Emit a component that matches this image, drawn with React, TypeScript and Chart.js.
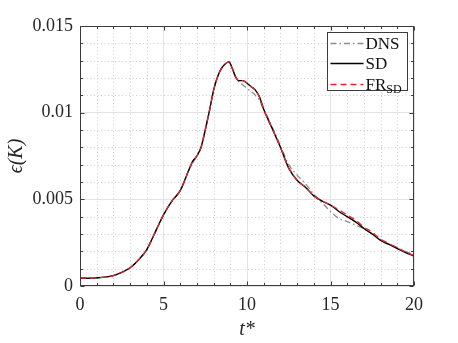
import React, { useEffect, useRef } from "react";
import { Chart, registerables } from "chart.js";

Chart.register(...registerables);

// ---- data ----
const T = [0, 0.5, 1, 1.5, 2, 2.5, 3, 3.5, 4, 4.5, 5, 5.5, 6, 6.5, 6.75, 7, 7.25, 7.5, 7.75, 8, 8.25, 8.5, 8.75, 8.92, 9.1, 9.3, 9.5, 9.75, 10, 10.25, 10.5, 10.75, 11, 11.5, 12, 12.5, 13, 13.5, 14, 14.5, 15, 15.5, 16, 16.5, 17, 17.5, 18, 18.5, 19, 19.5, 20];

const SD = [
  0.00045, 0.00045, 0.00047, 0.00051, 0.0006, 0.00078, 0.00105, 0.0015, 0.0021, 0.0031,
  0.0041, 0.0049, 0.0055, 0.00665, 0.0072, 0.0075, 0.008, 0.009, 0.0101, 0.0113,
  0.0121, 0.0126, 0.01285, 0.01293, 0.0126, 0.0121, 0.01185, 0.01185, 0.0117, 0.0115,
  0.0113, 0.0109, 0.0102, 0.0091, 0.008, 0.0068, 0.0061, 0.0057, 0.0052, 0.0049,
  0.00467, 0.0043, 0.004, 0.0037, 0.00332, 0.003, 0.00263, 0.0024, 0.00215, 0.00193,
  0.00173,
];

const DNS = [
  0.00045, 0.00045, 0.00047, 0.00051, 0.0006, 0.00078, 0.00105, 0.0015, 0.0021, 0.0031,
  0.0041, 0.0049, 0.0055, 0.00665, 0.0071, 0.0075, 0.008, 0.009, 0.0101, 0.0113,
  0.0121, 0.0126, 0.01285, 0.01293, 0.0126, 0.0121, 0.0118, 0.0116, 0.0114, 0.01122,
  0.011, 0.0107, 0.0102, 0.0092, 0.0081, 0.007, 0.0064, 0.0059, 0.0053, 0.0048,
  0.0043, 0.0039, 0.00372, 0.00352, 0.0033, 0.003, 0.00268, 0.00242, 0.00222, 0.002,
  0.0018,
];

const FR_SD = [
  0.00045, 0.00045, 0.00047, 0.00051, 0.0006, 0.00078, 0.00105, 0.0015, 0.0021, 0.0031,
  0.0041, 0.0049, 0.0055, 0.00665, 0.0072, 0.0075, 0.008, 0.009, 0.0101, 0.0113,
  0.0121, 0.0126, 0.01285, 0.01293, 0.0126, 0.0121, 0.01185, 0.01185, 0.0117, 0.0115,
  0.0113, 0.0109, 0.0102, 0.0091, 0.008, 0.0068, 0.0061, 0.0057, 0.0052, 0.0049,
  0.00467, 0.0044, 0.0041, 0.0038, 0.0034, 0.0031, 0.0027, 0.00245, 0.0022, 0.00197,
  0.00175,
];

const SERIES_LABELS = ["DNS", "SD", "FR_SD"];
const X_TICKS = [0, 5, 10, 15, 20];
const Y_TICKS = [0, 0.005, 0.01, 0.015];
const X_TITLE = "t*";
const Y_TITLE = "ϵ(K)";

const FONT = "'Liberation Serif', 'DejaVu Serif', serif";
const AXIS_COLOR = "#3c3c3c";

const pts = (ys: number[]) => T.map((t, i) => ({ x: t, y: ys[i] }));

// minor dotted grid + inward ticks + frame
const framePlugin = {
  id: "frameGrid",
  beforeDatasetsDraw(chart: any) {
    const { ctx, chartArea: a, scales } = chart;
    const x = scales.x;
    const y = scales.y;
    ctx.save();
    ctx.strokeStyle = "#cfcfcf";
    ctx.lineWidth = 1;
    ctx.setLineDash([1, 2.5]);
    for (let t = 1; t < 20; t++) {
      if (t % 5 === 0) continue;
      const px = Math.round(x.getPixelForValue(t)) + 0.5;
      ctx.beginPath();
      ctx.moveTo(px, a.top);
      ctx.lineTo(px, a.bottom);
      ctx.stroke();
    }
    for (let k = 1; k < 15; k++) {
      if (k % 5 === 0) continue;
      const py = Math.round(y.getPixelForValue(k * 0.001)) + 0.5;
      ctx.beginPath();
      ctx.moveTo(a.left, py);
      ctx.lineTo(a.right, py);
      ctx.stroke();
    }
    ctx.restore();
  },
  afterDatasetsDraw(chart: any) {
    const { ctx, chartArea: a, scales } = chart;
    const x = scales.x;
    const y = scales.y;
    ctx.save();
    ctx.strokeStyle = AXIS_COLOR;
    ctx.lineWidth = 1;
    ctx.setLineDash([]);
    const L = Math.round(a.left) + 0.5;
    const R = Math.round(a.right) - 0.5;
    const Tp = Math.round(a.top) + 0.5;
    const B = Math.round(a.bottom) - 0.5;
    ctx.strokeRect(L, Tp, R - L, B - Tp);
    ctx.beginPath();
    for (let t = 0; t <= 20; t++) {
      const px = Math.round(x.getPixelForValue(t)) + 0.5;
      const len = t % 5 === 0 ? 4 : 2.5;
      ctx.moveTo(px, B);
      ctx.lineTo(px, B - len);
      ctx.moveTo(px, Tp);
      ctx.lineTo(px, Tp + len);
    }
    for (let k = 0; k <= 15; k++) {
      const py = Math.round(y.getPixelForValue(k * 0.001)) + 0.5;
      const len = k % 5 === 0 ? 4 : 2.5;
      ctx.moveTo(L, py);
      ctx.lineTo(L + len, py);
      ctx.moveTo(R, py);
      ctx.lineTo(R - len, py);
    }
    ctx.stroke();
    ctx.restore();
  },
};

// legend box inside the axes
const legendPlugin = {
  id: "boxLegend",
  afterDraw(chart: any) {
    const { ctx } = chart;
    const left = 327.5;
    const top = 32.5;
    const w = 80;
    const h = 58;
    ctx.save();
    ctx.fillStyle = "#ffffff";
    ctx.fillRect(left, top, w, h);
    ctx.strokeStyle = AXIS_COLOR;
    ctx.lineWidth = 1;
    ctx.setLineDash([]);
    ctx.strokeRect(left, top, w, h);
    SERIES_LABELS.forEach((label, i) => {
      const ds = chart.data.datasets.find((d: any) => d.label === label);
      const cy = Math.round(top + 10 + i * 20.5) + 0.5;
      ctx.beginPath();
      ctx.strokeStyle = ds.borderColor;
      ctx.lineWidth = ds.borderWidth;
      ctx.setLineDash(ds.borderDash || []);
      ctx.moveTo(left + 3, cy);
      ctx.lineTo(left + 36, cy);
      ctx.stroke();
      ctx.setLineDash([]);
      ctx.fillStyle = "#111111";
      ctx.textBaseline = "middle";
      ctx.textAlign = "left";
      const [main, sub] = label.split("_");
      ctx.font = `17px ${FONT}`;
      ctx.fillText(main, left + 38, cy + 1);
      if (sub) {
        const mw = ctx.measureText(main).width;
        ctx.font = `12px ${FONT}`;
        ctx.fillText(sub, left + 38 + mw, cy + 5);
      }
    });
    ctx.restore();
  },
};

export default function App() {
  const ref = useRef<HTMLCanvasElement | null>(null);

  useEffect(() => {
    if (!ref.current) return;
    const chart = new Chart(ref.current, {
      type: "line",
      data: {
        datasets: [
          {
            label: "FR_SD",
            data: pts(FR_SD),
            borderColor: "#e8262a",
            borderWidth: 1.3,
            borderDash: [6, 4],
            pointRadius: 0,
            cubicInterpolationMode: "monotone",
            fill: false,
            order: 0,
          },
          {
            label: "SD",
            data: pts(SD),
            borderColor: "#000000",
            borderWidth: 1.4,
            borderDash: [],
            pointRadius: 0,
            cubicInterpolationMode: "monotone",
            fill: false,
            order: 1,
          },
          {
            label: "DNS",
            data: pts(DNS),
            borderColor: "#8c8c8c",
            borderWidth: 1.3,
            borderDash: [6, 3, 1.5, 3],
            pointRadius: 0,
            cubicInterpolationMode: "monotone",
            fill: false,
            order: 2,
          },
        ],
      },
      options: {
        animation: false,
        responsive: false,
        maintainAspectRatio: false,
        layout: { padding: { left: 0, right: 44, top: 26, bottom: 0 } },
        plugins: {
          legend: { display: false },
          tooltip: { enabled: false },
        },
        scales: {
          x: {
            type: "linear",
            min: 0,
            max: 20,
            afterBuildTicks: (s: any) => {
              s.ticks = X_TICKS.map((v) => ({ value: v }));
            },
            afterFit: (s: any) => {
              s.height = 57;
            },
            ticks: {
              font: { family: FONT, size: 18 },
              color: "#262626",
              padding: 8,
              maxRotation: 0,
              autoSkip: false,
              callback: (v: any) => String(Number(v)),
            },
            grid: { color: "#e3e3e3", drawTicks: false, lineWidth: 1 },
            border: { display: false },
            title: {
              display: true,
              text: X_TITLE,
              font: { family: FONT, size: 20, style: "italic" },
              color: "#262626",
              padding: { top: 0, bottom: 1 },
            },
          },
          y: {
            type: "linear",
            min: 0,
            max: 0.015,
            afterBuildTicks: (s: any) => {
              s.ticks = Y_TICKS.map((v) => ({ value: v }));
            },
            afterFit: (s: any) => {
              s.width = 80;
            },
            ticks: {
              font: { family: FONT, size: 18 },
              color: "#262626",
              padding: 7,
              autoSkip: false,
              callback: (v: any) => String(Number(v)),
            },
            grid: { color: "#e3e3e3", drawTicks: false, lineWidth: 1 },
            border: { display: false },
            title: {
              display: true,
              text: Y_TITLE,
              font: { family: FONT, size: 20, style: "italic" },
              color: "#262626",
              padding: { top: 5, bottom: 0 },
            },
          },
        },
      },
      plugins: [framePlugin, legendPlugin],
    });
    return () => chart.destroy();
  }, []);

  return (
    <div style={{ position: "fixed", left: 0, top: 0, width: 458, height: 343, background: "#ffffff" }}>
      <canvas ref={ref} width={458} height={343} style={{ display: "block", width: 458, height: 343 }} />
    </div>
  );
}
